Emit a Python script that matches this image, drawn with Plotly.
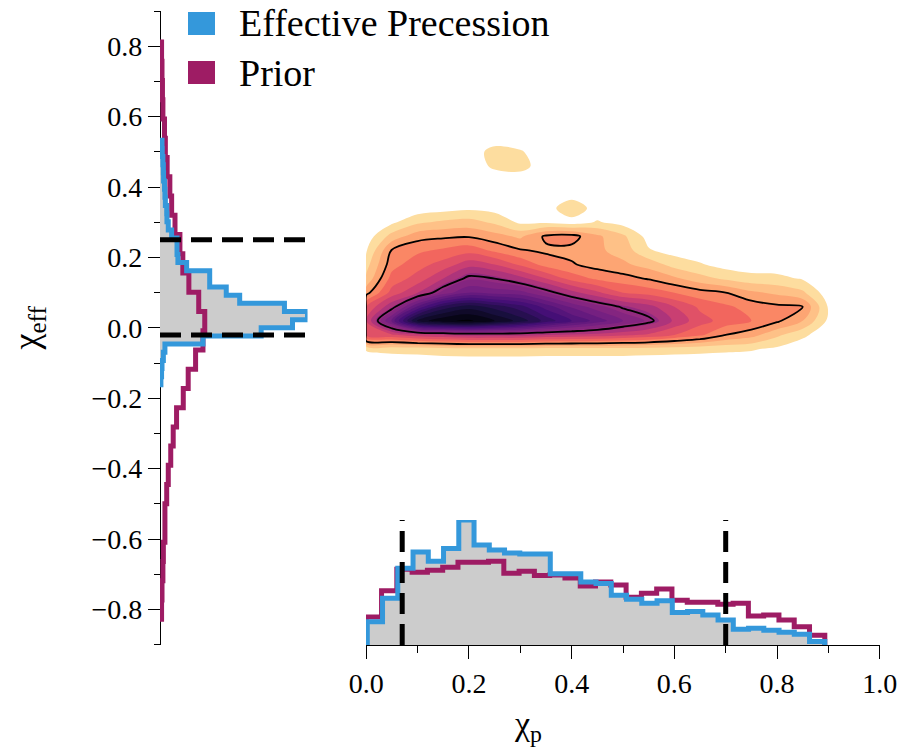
import numpy as np
import plotly.graph_objects as go

# ---------------------------------------------------------------------------
# Marginal histograms (probability densities, 30 equal-width bins each)
# ---------------------------------------------------------------------------
chi_p_range_effprec = (0.002, 0.893)
chi_p_density_effprec = [0.47, 0.95, 1.56, 1.89, 1.70, 1.96, 2.54, 2.03, 1.93, 1.87,
                         1.85, 1.85, 1.45, 1.45, 1.28, 1.25, 1.01, 0.93, 0.85, 0.90,
                         0.66, 0.68, 0.61, 0.51, 0.32, 0.34, 0.30, 0.26, 0.22, 0.07]

chi_p_range_prior = (0.0, 0.893)
chi_p_density_prior = [0.57, 1.10, 1.54, 1.48, 1.52, 1.58, 1.68, 1.68, 1.70, 1.46,
                       1.50, 1.41, 1.42, 1.36, 1.20, 1.28, 1.22, 0.97, 1.05, 1.14,
                       0.91, 0.87, 0.87, 0.83, 0.85, 0.59, 0.61, 0.51, 0.37, 0.20]

chi_eff_range_effprec = (-0.162, 0.533)
chi_eff_density_effprec = [0.04, 0.07, 0.09, 0.15, 0.22, 1.92, 4.52, 5.92, 6.59, 5.56,
                           3.56, 2.96, 2.22, 2.22, 1.19, 0.80, 0.76, 0.76, 0.52, 0.37,
                           0.31, 0.30, 0.24, 0.22, 0.20, 0.16, 0.15, 0.13, 0.10, 0.09]

chi_eff_range_prior = (-0.828, 0.812)
chi_eff_density_prior = [0.07, 0.09, 0.13, 0.15, 0.22, 0.22, 0.30, 0.37, 0.48, 0.59,
                         0.74, 1.04, 1.26, 1.59, 1.92, 2.00, 1.73, 1.29, 1.02, 0.89,
                         0.67, 0.52, 0.44, 0.32, 0.24, 0.20, 0.13, 0.11, 0.09, 0.07]

# 90% credible bounds of the Effective Precession posterior
chi_p_bounds = [0.07, 0.70]
chi_eff_bounds = [-0.02, 0.25]

# ---------------------------------------------------------------------------
# Joint posterior density (relative to its peak) on a regular grid.
# The first column sits on the physical boundary chi_p = 0.
# ---------------------------------------------------------------------------
kde_x = [-0.002, 0.00, 0.05, 0.10, 0.15, 0.20, 0.25, 0.30, 0.35, 0.40, 0.45,
         0.50, 0.55, 0.60, 0.65, 0.70, 0.75, 0.80, 0.85, 0.90]
kde_y = [-0.10, -0.06, -0.02, 0.02, 0.06, 0.10, 0.14, 0.18, 0.22, 0.26,
         0.30, 0.34, 0.38, 0.42, 0.46, 0.50, 0.54]
# one list per chi_p column, values running up in chi_eff
kde_columns = [
    [0] * 17,
    [0, 0.035, 0.30, 0.33, 0.28, 0.16, 0.09, 0.06, 0.025, 0, 0, 0, 0, 0, 0, 0, 0],
    [0, 0.045, 0.32, 0.60, 0.42, 0.30, 0.25, 0.21, 0.185, 0.10, 0.02, 0, 0, 0, 0, 0, 0],
    [0, 0.05, 0.36, 0.90, 0.64, 0.38, 0.30, 0.26, 0.22, 0.16, 0.07, 0, 0, 0, 0, 0, 0],
    [0, 0.06, 0.38, 0.97, 0.80, 0.50, 0.38, 0.30, 0.24, 0.17, 0.09, 0.01, 0, 0, 0, 0, 0],
    [0, 0.065, 0.40, 0.99, 0.86, 0.58, 0.47, 0.36, 0.26, 0.175, 0.10, 0.02, 0, 0, 0, 0, 0],
    [0, 0.065, 0.40, 0.93, 0.81, 0.56, 0.45, 0.33, 0.22, 0.15, 0.07, 0.01, 0, 0, 0.04, 0.05, 0],
    [0, 0.065, 0.40, 0.86, 0.75, 0.55, 0.40, 0.27, 0.185, 0.12, 0.02, 0, 0, 0, 0.05, 0.035, 0],
    [0, 0.06, 0.38, 0.76, 0.66, 0.48, 0.33, 0.21, 0.17, 0.19, 0.02, 0, 0, 0, 0, 0, 0],
    [0, 0.06, 0.37, 0.68, 0.57, 0.40, 0.26, 0.185, 0.165, 0.20, 0.005, 0.075, 0, 0, 0, 0, 0],
    [0, 0.06, 0.36, 0.61, 0.50, 0.34, 0.22, 0.16, 0.14, 0.14, 0.035, 0, 0, 0, 0, 0, 0],
    [0, 0.06, 0.34, 0.53, 0.44, 0.28, 0.20, 0.14, 0.11, 0.09, 0.01, 0, 0, 0, 0, 0, 0],
    [0, 0.055, 0.32, 0.47, 0.40, 0.26, 0.175, 0.11, 0.035, 0.01, 0, 0, 0, 0, 0, 0, 0],
    [0, 0.05, 0.28, 0.37, 0.33, 0.23, 0.14, 0.06, 0.01, 0, 0, 0, 0, 0, 0, 0, 0],
    [0, 0.045, 0.24, 0.30, 0.27, 0.20, 0.10, 0.035, 0, 0, 0, 0, 0, 0, 0, 0, 0],
    [0, 0.04, 0.18, 0.26, 0.24, 0.18, 0.07, 0.01, 0, 0, 0, 0, 0, 0, 0, 0, 0],
    [0, 0.035, 0.15, 0.23, 0.21, 0.14, 0.05, 0, 0, 0, 0, 0, 0, 0, 0, 0, 0],
    [0, 0.02, 0.09, 0.19, 0.19, 0.12, 0.045, 0, 0, 0, 0, 0, 0, 0, 0, 0, 0],
    [0, 0, 0.04, 0.13, 0.18, 0.09, 0.025, 0, 0, 0, 0, 0, 0, 0, 0, 0, 0],
    [0, 0, 0, 0.02, 0.025, 0, 0, 0, 0, 0, 0, 0, 0, 0, 0, 0, 0],
]
kde_z = np.array(kde_columns).T  # rows follow kde_y

# filled density levels and the two credible-region contours
fill_start, fill_end, fill_step = 0.03, 0.98, 0.05
credible_levels = [0.18, 0.45]

# ---------------------------------------------------------------------------
# Styling
# ---------------------------------------------------------------------------
W, H = 905, 753
BLUE = "#3498db"
MAGENTA = "#9e1c64"
GREY = "#cccccc"
FONT = "Liberation Serif"
MAGMA = ["#000004", "#180f3d", "#440f76", "#721f81", "#9e2f7f",
         "#cd4071", "#f1605d", "#fd9668", "#feca8d", "#fcfdbf"]
# density level -> position along the reversed magma map
SHADE_Z = [0.03, 0.18, 0.45, 1.0]
SHADE_T = [0.04, 0.22, 0.58, 1.0]


def px(x):
    return x / W


def py(y):
    return 1 - y / H


def magma_r(t):
    """Reversed magma: t=0 palest, t=1 darkest."""
    s = (1 - t) * (len(MAGMA) - 1)
    i = min(int(s), len(MAGMA) - 2)
    f = s - i
    a = [int(MAGMA[i][k:k + 2], 16) for k in (1, 3, 5)]
    b = [int(MAGMA[i + 1][k:k + 2], 16) for k in (1, 3, 5)]
    c = [round(a[j] + (b[j] - a[j]) * f) for j in range(3)]
    return f"rgb({c[0]},{c[1]},{c[2]})"


n_bands = int(round((fill_end - fill_start) / fill_step)) + 1
kde_colorscale = [[0.0, "rgba(255,255,255,0)"]]
for k in range(1, n_bands + 1):
    z_mid = fill_start + (k - 0.5) * fill_step
    kde_colorscale.append([k / n_bands, magma_r(float(np.interp(z_mid, SHADE_Z, SHADE_T)))])


def outline_up(edges, dens):
    xs = [edges[0]] + list(edges[:-1]) + [edges[-1]]
    ys = [0.0] + list(dens) + [0.0]
    return xs, ys


def outline_right(edges, dens):
    xs = [0.0] + list(dens) + [0.0]
    ys = [edges[0]] + list(edges[:-1]) + [edges[-1]]
    return xs, ys


def edges_of(rng, dens):
    return np.linspace(rng[0], rng[1], len(dens) + 1)


fig = go.Figure()

# joint density
fig.add_trace(go.Contour(
    x=kde_x, y=kde_y, z=kde_z, xaxis="x", yaxis="y",
    autocontour=False,
    contours=dict(start=fill_start, end=fill_end, size=fill_step,
                  coloring="fill", showlines=False),
    colorscale=kde_colorscale, showscale=False,
    line=dict(width=0, smoothing=1.0), hoverinfo="skip",
))
fig.add_trace(go.Contour(
    x=kde_x, y=kde_y, z=kde_z, xaxis="x", yaxis="y",
    autocontour=False,
    contours=dict(start=credible_levels[0], end=credible_levels[1],
                  size=credible_levels[1] - credible_levels[0], coloring="none"),
    line=dict(color="black", width=1.8, smoothing=1.0),
    showscale=False, hoverinfo="skip",
))

# bottom marginal: chi_p
e_ep = edges_of(chi_p_range_effprec, chi_p_density_effprec)
e_pr = edges_of(chi_p_range_prior, chi_p_density_prior)
xs, ys = outline_up(e_ep, chi_p_density_effprec)
fig.add_trace(go.Scatter(x=xs, y=ys, xaxis="x", yaxis="y2", mode="lines",
                         line=dict(width=0, shape="hv"), fill="tozeroy",
                         fillcolor=GREY, hoverinfo="skip"))
xs, ys = outline_up(e_pr, chi_p_density_prior)
fig.add_trace(go.Scatter(x=xs, y=ys, xaxis="x", yaxis="y2", mode="lines",
                         line=dict(width=5, color=MAGENTA, shape="hv"), name="Prior"))
xs, ys = outline_up(e_ep, chi_p_density_effprec)
fig.add_trace(go.Scatter(x=xs, y=ys, xaxis="x", yaxis="y2", mode="lines",
                         line=dict(width=5, color=BLUE, shape="hv"),
                         name="Effective Precession"))
p_top = max(chi_p_density_effprec)
for b in chi_p_bounds:
    fig.add_trace(go.Scatter(x=[b, b], y=[0, p_top], xaxis="x", yaxis="y2", mode="lines",
                             line=dict(color="black", width=5, dash="21px,10px"),
                             hoverinfo="skip"))

# left marginal: chi_eff
f_ep = edges_of(chi_eff_range_effprec, chi_eff_density_effprec)
f_pr = edges_of(chi_eff_range_prior, chi_eff_density_prior)
xs, ys = outline_right(f_ep, chi_eff_density_effprec)
fig.add_trace(go.Scatter(x=xs, y=ys, xaxis="x2", yaxis="y", mode="lines",
                         line=dict(width=0, shape="vh"), fill="tozerox",
                         fillcolor=GREY, hoverinfo="skip"))
xs, ys = outline_right(f_pr, chi_eff_density_prior)
fig.add_trace(go.Scatter(x=xs, y=ys, xaxis="x2", yaxis="y", mode="lines",
                         line=dict(width=5, color=MAGENTA, shape="vh"), name="Prior"))
xs, ys = outline_right(f_ep, chi_eff_density_effprec)
fig.add_trace(go.Scatter(x=xs, y=ys, xaxis="x2", yaxis="y", mode="lines",
                         line=dict(width=5, color=BLUE, shape="vh"),
                         name="Effective Precession"))
e_top = max(chi_eff_density_effprec)
for b in chi_eff_bounds:
    fig.add_trace(go.Scatter(x=[0, e_top], y=[b, b], xaxis="x2", yaxis="y", mode="lines",
                             line=dict(color="black", width=5, dash="21px,10px"),
                             hoverinfo="skip"))

axis_common = dict(showline=True, linecolor="black", linewidth=1.2, ticks="outside",
                   tickcolor="black", tickwidth=1.2, showgrid=False, zeroline=False,
                   tickformat=".1f", tickfont=dict(family=FONT, size=28, color="black"))

fig.update_layout(
    width=W, height=H, margin=dict(l=0, r=0, t=0, b=0, autoexpand=False),
    paper_bgcolor="white", plot_bgcolor="rgba(0,0,0,0)", showlegend=False,
    font=dict(family=FONT, size=28, color="black"),
    xaxis=dict(domain=[px(366), px(880)], range=[-0.0005, 1.0005], anchor="y",
               tick0=0, dtick=0.2, ticklen=13, automargin=False,
               minor=dict(dtick=0.1, tick0=0, ticklen=7, ticks="outside",
                          tickcolor="black", tickwidth=1.2),
               **axis_common),
    yaxis=dict(domain=[py(645), py(10.7)], range=[-0.901, 0.901], anchor="free",
               position=px(160), tick0=0, dtick=0.2, ticklen=12, automargin=False,
               minor=dict(dtick=0.1, tick0=0, ticklen=6, ticks="outside",
                          tickcolor="black", tickwidth=1.2),
               title=dict(text="χ<sub>eff</sub>", font=dict(family=FONT, size=36),
                          standoff=40),
               **axis_common),
    xaxis2=dict(domain=[px(160), px(307.5)], range=[0, e_top], anchor="y", visible=False),
    yaxis2=dict(domain=[py(645), py(520)], range=[0, p_top], anchor="x", visible=False),
)

# x-axis title, centred under the whole panel
fig.add_annotation(text="χ<sub>p</sub>", xref="paper", yref="paper",
                   x=px(528), y=py(726), xanchor="center", yanchor="middle",
                   showarrow=False, font=dict(family=FONT, size=34, color="black"))

# legend
legend_items = [("Effective Precession", BLUE, 23.5), ("Prior", MAGENTA, 72.5)]
for label, color, yc in legend_items:
    fig.add_shape(type="rect", xref="paper", yref="paper",
                  x0=px(188), x1=px(215), y0=py(yc + 11.5), y1=py(yc - 11.5),
                  fillcolor=color, line=dict(width=0))
    fig.add_annotation(text=label, xref="paper", yref="paper", x=px(237), y=py(yc),
                       xanchor="left", yanchor="middle", showarrow=False,
                       font=dict(family=FONT, size=38, color="black"))

fig.write_html("out.html")
